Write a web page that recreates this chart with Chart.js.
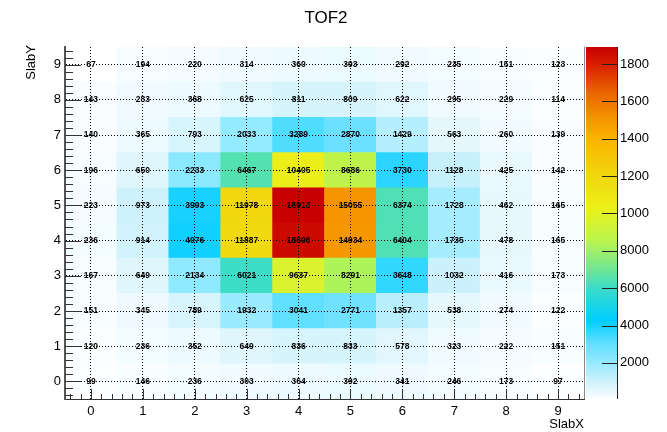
<!DOCTYPE html>
<html>
<head>
<meta charset="utf-8">
<title>TOF2</title>
<script src="https://cdn.jsdelivr.net/npm/chart.js@4.4.0/dist/chart.umd.min.js"></script>
<style>
  html, body { margin: 0; padding: 0; background: #fff; }
  #wrap { width: 667px; height: 432px; }
</style>
</head>
<body>
<div id="wrap"><canvas id="tof"></canvas></div>
<script>
const slabX = ["0", "1", "2", "3", "4", "5", "6", "7", "8", "9"];
const slabY = [0, 1, 2, 3, 4, 5, 6, 7, 8, 9];

// counts per SlabY row, each row lists SlabX 0..9
const row0 = [99, 146, 236, 303, 364, 392, 341, 246, 173, 97];
const row1 = [120, 236, 352, 649, 836, 833, 578, 323, 222, 151];
const row2 = [151, 345, 789, 1932, 3041, 2771, 1357, 538, 274, 122];
const row3 = [167, 649, 2134, 6021, 9637, 8291, 3648, 1032, 416, 173];
const row4 = [236, 914, 4076, 11887, 18606, 14934, 6404, 1735, 478, 165];
const row5 = [223, 973, 3993, 11978, 18913, 15055, 6374, 1728, 462, 165];
const row6 = [196, 650, 2233, 6467, 10405, 8686, 3730, 1128, 425, 142];
const row7 = [140, 365, 793, 2033, 3289, 2870, 1429, 563, 260, 139];
const row8 = [143, 283, 368, 625, 811, 809, 622, 295, 229, 114];
const row9 = [67, 194, 220, 314, 360, 393, 292, 235, 151, 123];
const counts = [row0, row1, row2, row3, row4, row5, row6, row7, row8, row9];

// colour bar ticks (labels are cut to 4 characters, as in the picture)
const colorTicks = [2000, 4000, 6000, 8000, 10000, 12000, 14000, 16000, 18000];
const colorTickLabels = ["2000", "4000", "6000", "8000", "1000", "1200", "1400", "1600", "1800"];

const zMin = Math.min(...counts.flat());
const zMax = Math.max(...counts.flat());

// palette stops
const palVal = [67, 150, 300, 600, 1000, 2000, 3000, 4300, 6000, 7000, 8500, 10300, 12000, 14000, 15000, 16500, 18000, 18913];
const palRgb = [
  [255, 255, 255], [248, 253, 255], [240, 251, 255], [225, 247, 253], [205, 242, 252],
  [150, 234, 255], [100, 224, 255], [0, 205, 255], [60, 220, 200], [110, 230, 150],
  [185, 245, 80], [235, 240, 25], [240, 215, 15], [252, 180, 0], [245, 150, 0],
  [235, 100, 0], [215, 30, 0], [200, 0, 0]
];

function colorFor(v) {
  if (v <= palVal[0]) return `rgb(${palRgb[0].join(",")})`;
  for (let k = 1; k < palVal.length; k++) {
    if (v <= palVal[k]) {
      const t = (v - palVal[k - 1]) / (palVal[k] - palVal[k - 1]);
      const a = palRgb[k - 1], b = palRgb[k];
      const c = a.map((x, i) => Math.round(x + (b[i] - x) * t));
      return `rgb(${c.join(",")})`;
    }
  }
  return `rgb(${palRgb[palRgb.length - 1].join(",")})`;
}

const FONT = "'Liberation Sans', Arial, Helvetica, sans-serif";

const datasets = slabY.map(j => ({
  label: "SlabY " + j,
  data: slabX.map(() => [j - 0.5, j + 0.5]),
  backgroundColor: counts[j].map(colorFor),
  borderWidth: 0,
  barPercentage: 1,
  categoryPercentage: 1
}));

const decor = {
  id: "decor",
  afterDraw(chart) {
    const ctx = chart.ctx;
    const area = chart.chartArea;
    const xs = chart.scales.x, ys = chart.scales.y;
    ctx.save();
    ctx.setLineDash([]);

    // cell texts
    ctx.fillStyle = "#000";
    ctx.font = "bold 8.5px " + FONT;
    ctx.textAlign = "center";
    ctx.textBaseline = "middle";
    chart.data.datasets.forEach((ds, j) => {
      chart.getDatasetMeta(j).data.forEach((bar, i) => {
        ctx.fillText(String(counts[j][i]), bar.x, (bar.y + bar.base) / 2);
      });
    });

    // inner tick marks
    ctx.strokeStyle = "#333";
    ctx.lineWidth = 1;
    ctx.beginPath();
    for (let k = -2; k <= 47; k++) {
      const v = k / 5;
      const major = k % 5 === 0;
      const py = Math.round(ys.getPixelForValue(v)) + 0.5;
      ctx.moveTo(area.left, py);
      ctx.lineTo(area.left + (major ? 16 : 8), py);
      const px = Math.round(xs.getPixelForValue(v)) + 0.5;
      ctx.moveTo(px, area.bottom);
      ctx.lineTo(px, area.bottom - (major ? 10 : 5));
    }
    ctx.stroke();

    // right frame line
    ctx.strokeStyle = "#888";
    ctx.beginPath();
    ctx.moveTo(Math.round(area.right) + 0.5, area.top);
    ctx.lineTo(Math.round(area.right) + 0.5, area.bottom);
    ctx.stroke();

    // colour bar
    const cx0 = Math.round(area.right) + 2, cx1 = cx0 + 31;
    const h = area.bottom - area.top;
    for (let py = area.top; py < area.bottom; py++) {
      const v = zMin + (area.bottom - py - 0.5) / h * (zMax - zMin);
      ctx.fillStyle = colorFor(v);
      ctx.fillRect(cx0, py, cx1 - cx0, 1);
    }
    ctx.strokeStyle = "#222";
    ctx.beginPath();
    ctx.moveTo(cx1 + 0.5, area.top);
    ctx.lineTo(cx1 + 0.5, area.bottom);
    colorTicks.forEach(v => {
      const py = Math.round(area.bottom - (v - zMin) / (zMax - zMin) * h) + 0.5;
      ctx.moveTo(cx1, py);
      ctx.lineTo(cx1 - 15, py);
    });
    ctx.stroke();
    ctx.fillStyle = "#000";
    ctx.font = "13px " + FONT;
    ctx.textAlign = "left";
    colorTicks.forEach((v, k) => {
      const py = area.bottom - (v - zMin) / (zMax - zMin) * h;
      ctx.fillText(colorTickLabels[k], cx1 + 3, py);
    });

    // title and axis titles
    ctx.font = "17px " + FONT;
    ctx.textAlign = "center";
    ctx.fillText("TOF2", 326, 18);
    ctx.font = "13px " + FONT;
    ctx.textAlign = "right";
    ctx.fillText("SlabX", area.right, 424);
    ctx.translate(31, area.top - 2);
    ctx.rotate(-Math.PI / 2);
    ctx.fillText("SlabY", 0, 0);
    ctx.restore();
  }
};

new Chart(document.getElementById("tof"), {
  type: "bar",
  data: { labels: slabX, datasets: datasets },
  options: {
    responsive: true,
    maintainAspectRatio: false,
    animation: false,
    layout: { padding: { top: 47, right: 83, left: 0, bottom: 0 } },
    datasets: { bar: { grouped: false } },
    plugins: {
      legend: { display: false },
      title: { display: false },
      tooltip: { enabled: false }
    },
    scales: {
      x: {
        type: "category",
        offset: true,
        grid: { z: 1, offset: false, color: "#000", lineWidth: 1, drawTicks: false },
        border: { z: 2, display: true, color: "#333", width: 1, dash: [1, 2] },
        ticks: { color: "#000", font: { family: FONT, size: 13 }, padding: 5, maxRotation: 0 },
        afterFit: s => { s.height = 33; }
      },
      y: {
        type: "linear",
        min: -0.5,
        max: 9.5,
        afterBuildTicks: s => { s.ticks = slabY.map(v => ({ value: v })); },
        grid: { z: 1, color: "#000", lineWidth: 1, drawTicks: false },
        border: { z: 2, display: true, color: "#555", width: 2, dash: [1, 2] },
        ticks: { color: "#000", font: { family: FONT, size: 13 }, padding: 4 },
        afterFit: s => { s.width = 65; }
      }
    }
  },
  plugins: [decor]
});
</script>
</body>
</html>
